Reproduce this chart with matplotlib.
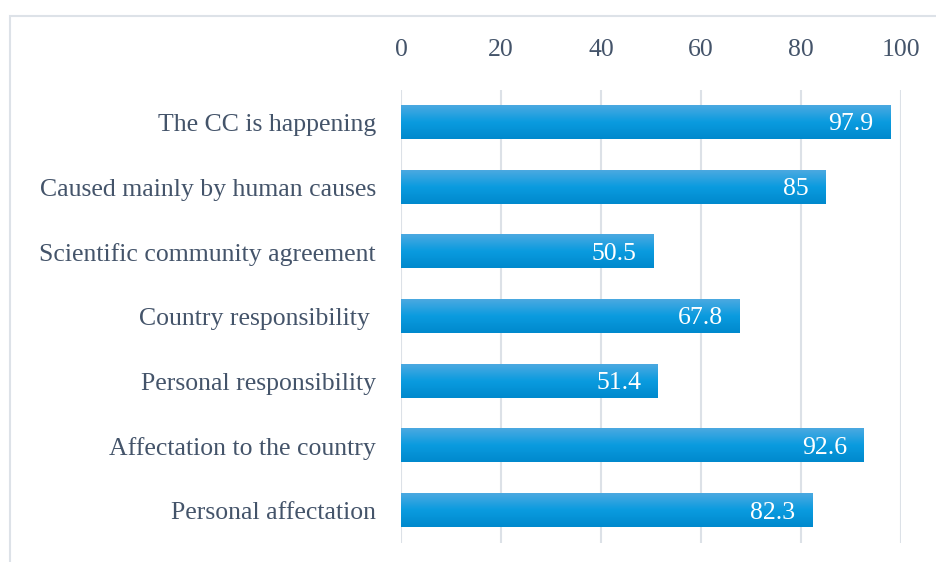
import matplotlib
matplotlib.use("Agg")
import matplotlib.pyplot as plt
import numpy as np
from matplotlib.patches import Rectangle
from matplotlib.colors import LinearSegmentedColormap

categories = ["The CC is happening", "Caused mainly by human causes",
              "Scientific community agreement", "Country responsibility ",
              "Personal responsibility", "Affectation to the country",
              "Personal affectation"]
values = [97.9, 85, 50.5, 67.8, 51.4, 92.6, 82.3]
value_labels = ["97.9", "85", "50.5", "67.8", "51.4", "92.6", "82.3"]
xticks = [0, 20, 40, 60, 80, 100]

plt.rcParams['font.family'] = ['Liberation Serif', 'DejaVu Serif']
text_color = '#44546A'
grid_color = '#DCE1E7'
fs = 18.5

fig = plt.figure(figsize=(9.36, 5.62), dpi=100)
fig.patches.append(Rectangle((10/936, -0.1), 1.0, 1 - 16/562 + 0.1,
                             transform=fig.transFigure, fill=False,
                             edgecolor='#DDE2E8', linewidth=1.5, zorder=0))
ax = fig.add_axes([401/936, 1 - 543/562, 500/936, (543 - 90)/562])

y = np.arange(len(categories))
bars = ax.barh(y, values, height=0.51, color='#0A9BDF', zorder=2)

# gradient overlay
grad = np.linspace(0, 1, 64).reshape(-1, 1)
cmap = LinearSegmentedColormap.from_list('g', ['#4BA9E1', '#0A9BDF', '#0089CD'])
for b in bars:
    x0, y0 = b.get_x(), b.get_y()
    w, h = b.get_width(), b.get_height()
    ax.imshow(grad, cmap=cmap, extent=(x0, x0 + w, y0 + h, y0), aspect='auto',
              zorder=3, interpolation='bicubic')

for b, lab in zip(bars, value_labels):
    ax.text(b.get_width() - 3.4, b.get_y() + b.get_height() / 2 + 0.03, lab,
            ha='right', va='center', color='white', fontsize=fs, zorder=4)

ax.set_xlim(0, 100)
ax.set_ylim(len(categories) - 0.5, -0.5)
ax.set_xticks(xticks)
ax.xaxis.tick_top()
ax.set_yticks(y)
ax.set_yticklabels(categories)
ax.tick_params(axis='both', length=0, labelsize=fs, colors=text_color)
ax.tick_params(axis='x', pad=21)
ax.tick_params(axis='y', pad=18)
ax.grid(axis='x', color=grid_color, linewidth=1.5, zorder=0)
ax.set_axisbelow(True)
for s in ax.spines.values():
    s.set_visible(False)

fig.savefig('out.png', dpi=100)
